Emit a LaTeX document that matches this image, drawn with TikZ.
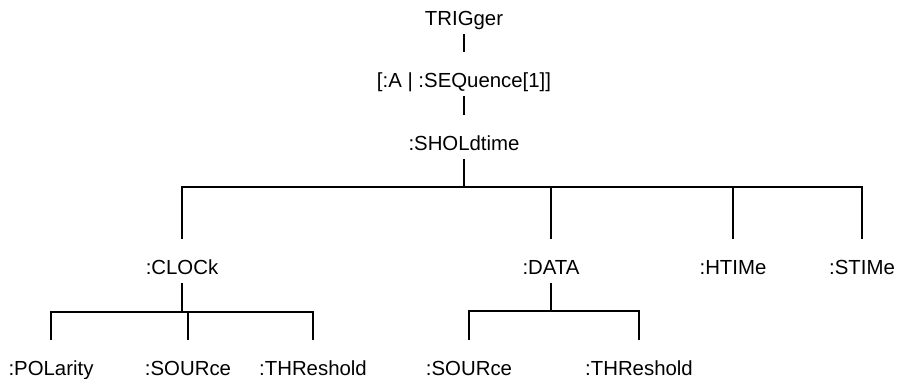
\documentclass[tikz,border=0pt]{standalone}
\usepackage{fontspec}
\setmainfont{Liberation Sans}
\begin{document}
\begin{tikzpicture}[x=0.02cm,y=-0.02cm,font=\fontsize{11.6}{14}\selectfont,
 every node/.style={anchor=base,inner sep=0pt,text height=0.7cm,text depth=0.18cm},
 tree/.style={line width=1.5pt}]
\useasboundingbox (0,0) rectangle (907,379);
\node (trig) at (464,25) {TRIGger};
\node (seq) at (464,87) {[:A | :SEQuence[1]]};
\node (shold) at (464,150) {:SHOLdtime};
\foreach \n/\x/\t in {clock/182/:CLOCk,data/551/:DATA,htime/733/:HTIMe,stime/862/:STIMe}
 \node (\n) at (\x,274) {\t};
\foreach \n/\x/\t in {pol/51/:POLarity,srca/188/:SOURce,thra/313/:THReshold,srcb/469/:SOURce,thrb/639/:THReshold}
 \node (\n) at (\x,375) {\t};
\coordinate (bus) at (464,187);
\coordinate (cbus) at (182,312);
\coordinate (dbus) at (551,311);
\draw[tree] (trig) -- (seq);
\draw[tree] (seq) -- (shold);
\draw[tree] (shold) -- (bus);
\draw[tree] (clock) |- (bus) -| (stime) (data) |- (bus) (htime) |- (bus);
\draw[tree] (clock) -- (cbus) (pol) |- (cbus) -| (thra) (srca) |- (cbus);
\draw[tree] (data) -- (dbus) (srcb) |- (dbus) -| (thrb);
\end{tikzpicture}
\end{document}
